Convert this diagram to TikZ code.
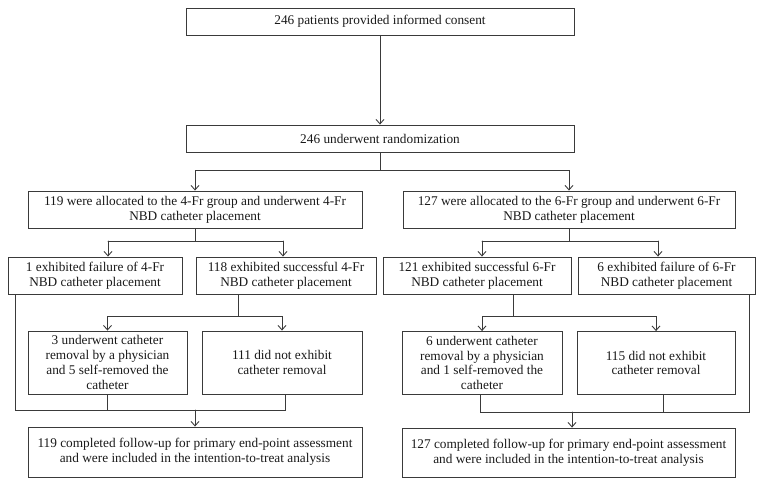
\documentclass[tikz,border=0pt]{standalone}
\usepackage{fontspec}
\setmainfont{Liberation Serif}
\usetikzlibrary{arrows.meta}
\definecolor{ink}{HTML}{3A3A3A}
\begin{document}
\begin{tikzpicture}[x=1pt, y=-1pt, line width=0.9pt, line cap=round, draw=ink,
		box/.style={draw=ink, inner sep=0pt, align=center, text=black!90,
			font=\fontsize{13.3}{14.8}\selectfont},
		arr/.style={-{Straight Barb[length=4.5pt, width=8pt]}}]
	\useasboundingbox (0,0) rectangle (765,487);

	% 知情同意与随机化
	\node[box, minimum width=388pt, minimum height=27pt] (consent) at (380,21.5)
		{246 patients provided informed consent};
	\node[box, minimum width=388pt, minimum height=27pt] (random) at (380,138.5)
		{246 underwent randomization};

	% 分组
	\node[box, minimum width=334pt, minimum height=37pt] (grpL) at (195,209.5)
		{119 were allocated to the 4-Fr group and underwent 4-Fr\\NBD catheter placement};
	\node[box, minimum width=332pt, minimum height=37pt] (grpR) at (569,209.5)
		{127 were allocated to the 6-Fr group and underwent 6-Fr\\NBD catheter placement};

	% 置管结果
	\node[box, minimum width=174pt, minimum height=37pt] (fail4) at (95,275.5)
		{1 exhibited failure of 4-Fr\\NBD catheter placement};
	\node[box, minimum width=180pt, minimum height=37pt] (succ4) at (286,275.5)
		{118 exhibited successful 4-Fr\\NBD catheter placement};
	\node[box, minimum width=188pt, minimum height=37pt] (succ6) at (477,275.5)
		{121 exhibited successful 6-Fr\\NBD catheter placement};
	\node[box, minimum width=177pt, minimum height=37pt] (fail6) at (666.5,275.5)
		{6 exhibited failure of 6-Fr\\NBD catheter placement};

	% 拔管情况
	\node[box, minimum width=159pt, minimum height=63pt] (rem4) at (107.5,362.5)
		{3 underwent catheter\\removal by a physician\\and 5 self-removed the\\catheter};
	\node[box, minimum width=160pt, minimum height=63pt] (keep4) at (282,362.5)
		{111 did not exhibit\\catheter removal};
	\node[box, minimum width=160pt, minimum height=63pt] (rem6) at (482,363)
		{6 underwent catheter\\removal by a physician\\and 1 self-removed the\\catheter};
	\node[box, minimum width=158pt, minimum height=63pt] (keep6) at (656,363)
		{115 did not exhibit\\catheter removal};

	% 随访结果
	\node[box, minimum width=334pt, minimum height=50pt] (endL) at (195,452)
		{119 completed follow-up for primary end-point assessment\\and were included in the intention-to-treat analysis};
	\node[box, minimum width=333pt, minimum height=49pt] (endR) at (568.5,452.5)
		{127 completed follow-up for primary end-point assessment\\and were included in the intention-to-treat analysis};

	% 分支点
	\coordinate (jTop) at (380,170);
	\coordinate (jL) at (195,241);
	\coordinate (aL1) at (108,241);
	\coordinate (aL2) at (283,241);
	\coordinate (jR) at (569,241);
	\coordinate (aR1) at (482,241);
	\coordinate (aR2) at (658,241);
	\coordinate (kL) at (238,316);
	\coordinate (kR) at (513,316);
	% 汇合点
	\coordinate (mL) at (195,410);
	\coordinate (mL1) at (15,410);
	\coordinate (mL2) at (285,410);
	\coordinate (mR) at (572,412);
	\coordinate (mR1) at (480,412);
	\coordinate (mR2) at (663,412);
	\coordinate (mR3) at (749,412);

	% 连线
	\draw[arr] (consent) -- (random);
	\draw (random) -- (jTop);
	\draw[arr] (jTop) -| (grpL);
	\draw[arr] (jTop) -| (grpR);

	\draw (grpL) -- (jL);
	\draw (aL1) -- (aL2);
	\draw[arr] (aL1) -- (aL1 |- fail4.north);
	\draw[arr] (aL2) -- (aL2 |- succ4.north);
	\draw (grpR) -- (jR);
	\draw (aR1) -- (aR2);
	\draw[arr] (aR1) -- (aR1 |- succ6.north);
	\draw[arr] (aR2) -- (aR2 |- fail6.north);

	\draw (kL |- succ4.south) -- (kL);
	\draw[arr] (kL) -| (rem4);
	\draw[arr] (kL) -| (keep4);
	\draw (kR |- succ6.south) -- (kR);
	\draw[arr] (kR) -| (rem6);
	\draw[arr] (kR) -| (keep6);

	\draw (mL1 |- fail4.south) -- (mL1) -- (mL2) -- (mL2 |- keep4.south);
	\draw (rem4) -- (rem4 |- mL);
	\draw[arr] (mL) -- (endL);
	\draw (mR3 |- fail6.south) -- (mR3) -- (mR1) -- (mR1 |- rem6.south);
	\draw (mR2 |- keep6.south) -- (mR2);
	\draw[arr] (mR) -- (mR |- endR.north);
\end{tikzpicture}
\end{document}
